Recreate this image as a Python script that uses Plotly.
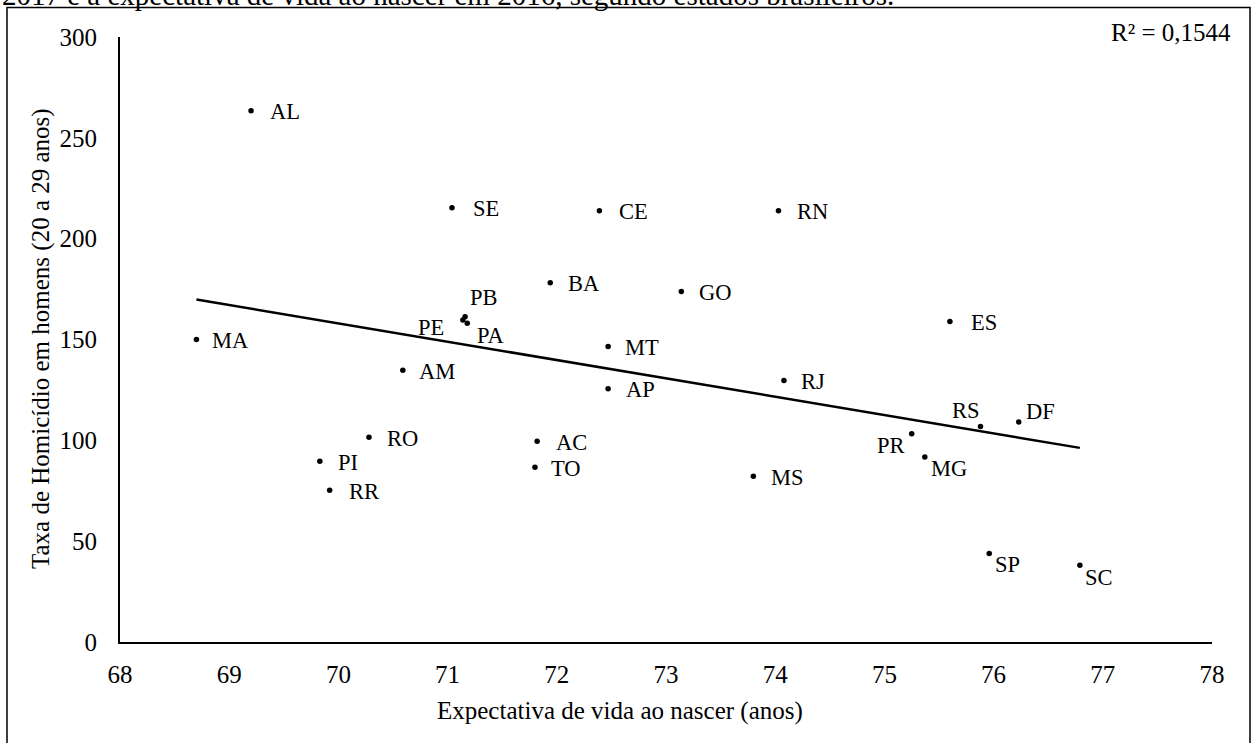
import numpy as np
import plotly.graph_objects as go

# ---- data ----
states = ["AL", "SE", "CE", "RN", "BA", "GO", "PB", "PE", "PA", "MA", "MT", "AM", "AP", "RJ",
          "ES", "RO", "AC", "PI", "TO", "RR", "MS", "RS", "DF", "PR", "MG", "SP", "SC"]
life_expectancy = [69.20, 71.04, 72.39, 74.03, 71.94, 73.14, 71.16, 71.14, 71.18, 68.70, 72.47, 70.59,
                   72.47, 74.08, 75.60, 70.28, 71.82, 69.83, 71.80, 69.92, 73.80, 75.88, 76.23,
                   75.25, 75.37, 75.96, 76.79]
homicide_rate = [263.4, 215.3, 213.9, 213.9, 178.1, 173.8, 161.3, 159.7, 158.1, 150.0, 146.5, 134.7,
                 125.6, 129.7, 158.9, 101.5, 99.5, 89.6, 86.6, 75.2, 82.2, 106.9, 109.1,
                 103.3, 91.7, 43.9, 38.1]
x_ticks = [68, 69, 70, 71, 72, 73, 74, 75, 76, 77, 78]
y_ticks = [0, 50, 100, 150, 200, 250, 300]
r2_text = "R² = 0,1544"
x_title = "Expectativa de vida ao nascer (anos)"
y_title = "Taxa de Homicídio em homens (20 a 29 anos)"
cut_caption = "2017 e a expectativa de vida ao nascer em 2016, segundo estados brasileiros."

# ---- label placement (style: pixel offsets of label centre from the dot) ----
default_offset = (34, 1)
label_offsets = {
    "PB": (19, -19), "PE": (-32, 8), "PA": (23, 12), "RJ": (29, 1), "PI": (28, 1),
    "RS": (-15, -16), "DF": (22, -10), "PR": (-21, 12), "MG": (24, 11),
    "SP": (18, 11), "SC": (19, 12), "TO": (31, 1), "AP": (32, 1),
}

FONT = "Liberation Serif, Times New Roman, serif"
FS_AXIS = 25
FS_LABEL = 22.5
FS_CAPTION = 29

# linear trend (OLS) from the data
slope, intercept = np.polyfit(life_expectancy, homicide_rate, 1)
trend_x = [min(life_expectancy), max(life_expectancy)]
trend_y = [slope * v + intercept for v in trend_x]

fig = go.Figure()
fig.add_trace(go.Scatter(x=trend_x, y=trend_y, mode="lines",
                         line=dict(color="black", width=2.5), hoverinfo="skip", showlegend=False))
fig.add_trace(go.Scatter(x=life_expectancy, y=homicide_rate, mode="markers",
                         marker=dict(color="black", size=5.5), text=states, showlegend=False))

annotations = []
for s, xv, yv in zip(states, life_expectancy, homicide_rate):
    dx, dy = label_offsets.get(s, default_offset)
    annotations.append(dict(x=xv, y=yv, xref="x", yref="y", text=s, showarrow=False,
                            xanchor="center", yanchor="middle", xshift=dx, yshift=-dy,
                            font=dict(family=FONT, size=FS_LABEL, color="black")))

W, H = 1254, 743
ml, mr, mt, mb = 120, 42, 37, 101
pw, ph = W - ml - mr, H - mt - mb


def px_x(p):
    return (p - ml) / pw


def px_y(p):
    return (H - mb - p) / ph


annotations += [
    dict(x=px_x(1233), y=px_y(32), xref="paper", yref="paper", text=r2_text, showarrow=False,
         xanchor="right", yanchor="middle", font=dict(family=FONT, size=FS_AXIS, color="black")),
    dict(x=px_x(620), y=px_y(711), xref="paper", yref="paper", text=x_title, showarrow=False,
         xanchor="center", yanchor="middle", font=dict(family=FONT, size=FS_AXIS, color="black")),
    dict(x=px_x(41), y=px_y(339), xref="paper", yref="paper", text=y_title, showarrow=False,
         textangle=-90, xanchor="center", yanchor="middle",
         font=dict(family=FONT, size=FS_AXIS, color="black")),
    dict(x=px_x(0), y=px_y(-5), xref="paper", yref="paper", text=cut_caption, showarrow=False,
         xanchor="left", yanchor="middle", font=dict(family=FONT, size=FS_CAPTION, color="black")),
]

fig.update_layout(
    width=W, height=H,
    margin=dict(l=ml, r=mr, t=mt, b=mb),
    paper_bgcolor="white", plot_bgcolor="white",
    font=dict(family=FONT, size=FS_AXIS, color="black"),
    annotations=annotations,
    shapes=[dict(type="rect", xref="paper", yref="paper",
                 x0=px_x(7), x1=px_x(1250), y0=px_y(760), y1=px_y(7.5),
                 line=dict(color="black", width=1.5), fillcolor="rgba(0,0,0,0)", layer="below")],
    xaxis=dict(range=[68, 78], tickvals=x_ticks, ticktext=[str(v) for v in x_ticks],
               showline=True, linecolor="black", linewidth=2, showgrid=False, zeroline=False,
               ticks="", ticklabelstandoff=9, tickfont=dict(family=FONT, size=FS_AXIS)),
    yaxis=dict(range=[0, 300], tickvals=y_ticks, ticktext=[str(v) for v in y_ticks],
               showline=True, linecolor="black", linewidth=2, showgrid=False, zeroline=False,
               ticks="", ticklabelstandoff=16, tickfont=dict(family=FONT, size=FS_AXIS)),
    hovermode=False,
)

fig.write_html("out.html")
